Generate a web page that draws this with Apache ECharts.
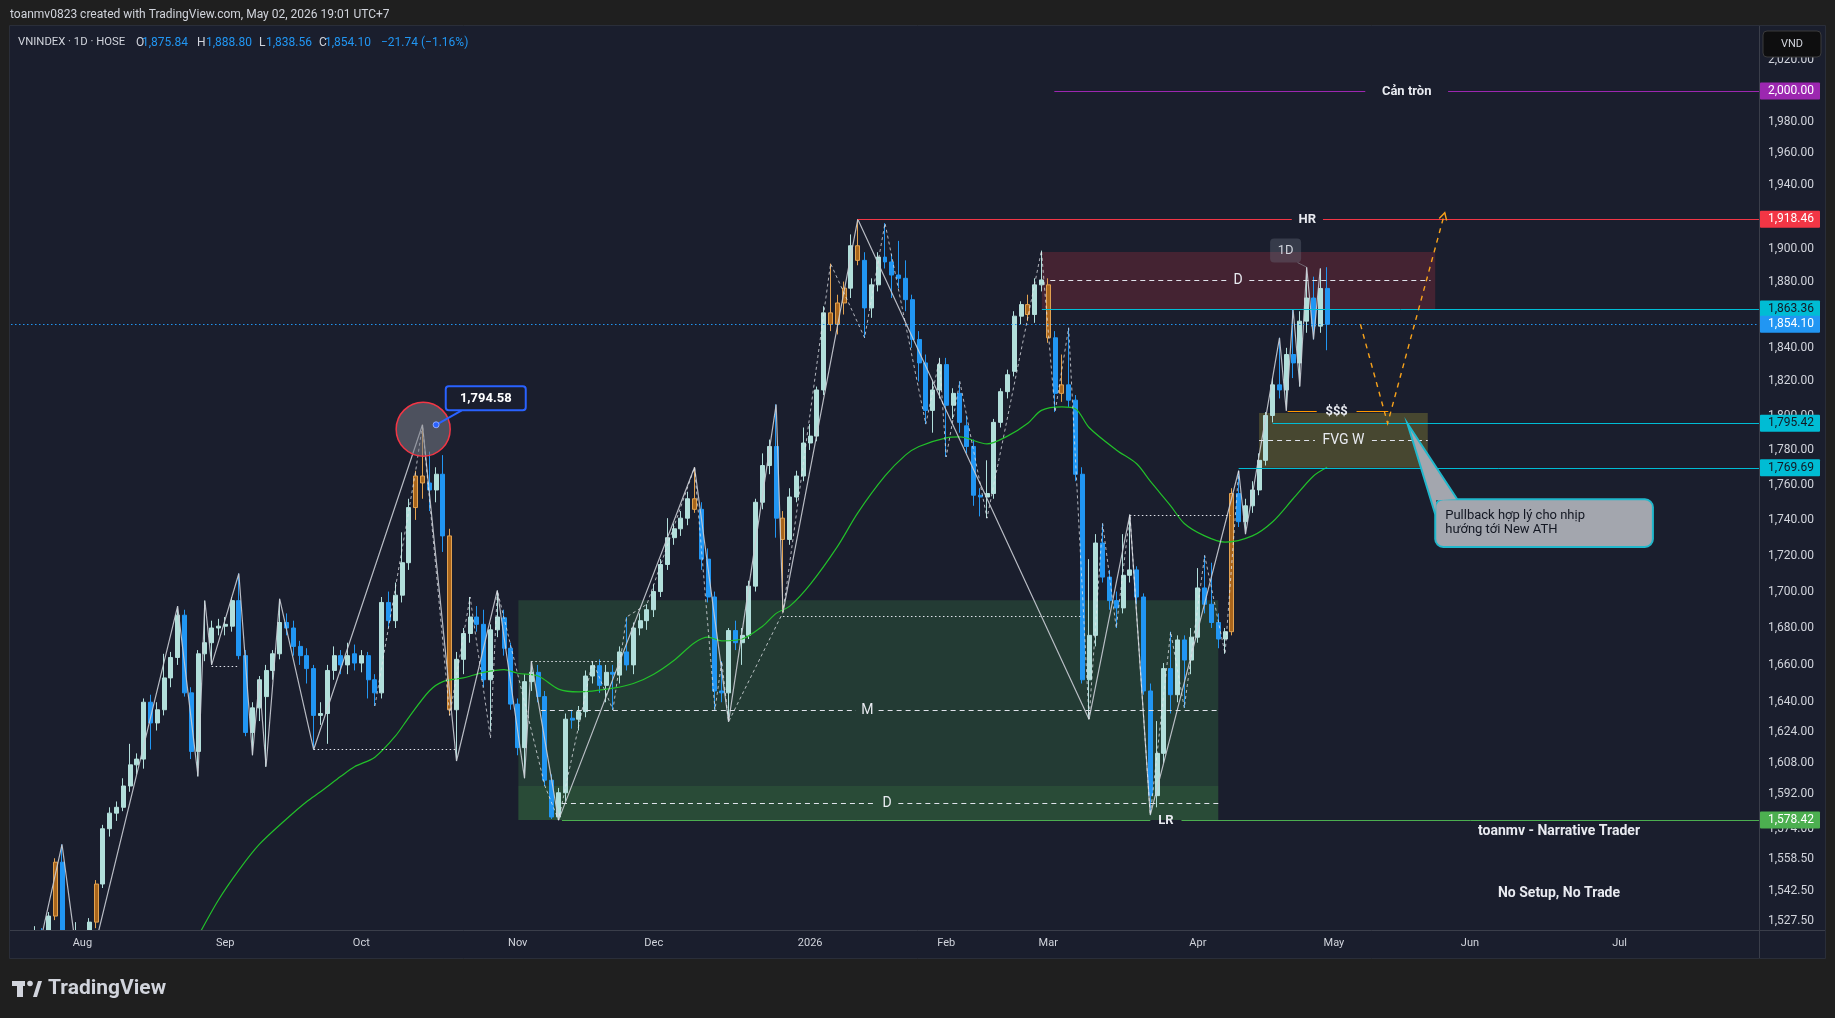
<!DOCTYPE html>
<html>
<head>
<meta charset="utf-8">
<title>VNINDEX 1D</title>
<script src="https://cdn.jsdelivr.net/npm/echarts@6/dist/echarts.min.js"></script>
<style>
html, body { margin: 0; padding: 0; background: #1f1f1f; }
#chart { width: 1835px; height: 1018px; }
</style>
</head>
<body>
<div id="chart"></div>
<script>
// trading days: weekdays from firstDay to lastDay, minus HOSE holidays
const firstDay = "2025-07-18"
const lastDay = "2026-07-29"
const holidays = ["2025-09-01", "2025-09-02", "2026-01-01", "2026-01-02", "2026-02-16", "2026-02-17",
	"2026-02-18", "2026-02-19", "2026-02-20", "2026-04-27", "2026-04-30", "2026-05-01"]
const monthNames = ["Jan", "Feb", "Mar", "Apr", "May", "Jun", "Jul", "Aug", "Sep", "Oct", "Nov", "Dec"]

// daily OHLC, Jul 18 2025 .. Apr 29 2026
const opens = [1495,1497,1502,1508,1518,1514,1530,1557,1495,1508, 1518,1497,1527,1546,1574,1582,1585,1596,1607,1610,
	1640,1629,1636,1653,1664,1687,1645,1614,1666,1672, 1680,1681,1681,1695,1665,1624,1637,1643,1657,1666,
	1683,1680,1670,1665,1658,1633,1634,1657,1665,1660, 1666,1661,1665,1652,1645,1694,1684,1698,1716,1747,
	1765,1761,1757,1766,1731,1636,1663,1677,1686,1682, 1652,1679,1685.6,1669,1639,1616,1651,1656,1643,1599,
	1580,1592.5,1631.5,1631,1635,1654,1659.6,1649,1656,1654.5, 1667,1660,1680,1684,1690,1700,1715,1730,1735,1741,
	1752,1746,1718,1697,1646,1645,1678.6,1672,1676,1703, 1750,1771,1782,1741,1729,1753,1765,1784,1788,1815,
	1861,1854,1867,1876,1902,1893,1864,1878,1895,1892, 1884,1882,1869,1845,1831,1803,1815,1830,1806,1813,
	1794,1782,1754,1753,1755,1796,1814,1826,1859,1866, 1860,1878,1878,1846,1813,1818,1809,1766,1652,1676,
	1727,1708,1695,1691,1709,1712,1697,1646,1591,1613, 1658,1644,1673.5,1662.6,1675,1702,1693,1683,1674,1678,
	1755,1739,1748,1757,1774,1800,1818,1815,1836,1831, 1856,1870,1853,1875.84]
const highs = [1500,1505,1512,1525,1524,1532,1559,1566,1512,1527, 1522,1529,1548,1576,1585,1588,1600,1618,1613,1642,
	1644,1640,1666,1667,1692,1690,1648,1668,1695,1684, 1685,1686,1697,1710,1668,1640,1654,1660,1668,1696,
	1688,1684,1673,1669,1660,1640,1660,1670,1668,1672, 1671,1668,1667,1655,1697,1700,1705,1733,1752,1768,
	1794.58,1779,1770,1777,1735,1667,1680,1697,1692,1690, 1682,1700.6,1690,1672,1642,1655,1662,1660,1646,1602,
	1595,1634,1636,1638,1657,1662,1663,1660,1660,1670, 1686,1683,1688,1693,1704,1718,1741,1738,1745,1756,
	1770,1750,1724,1700,1662,1680,1684,1680,1706,1752, 1778,1786,1806.5,1745,1758,1768,1793,1795,1817,1865,
	1891,1872,1880,1909,1918.46,1898,1882,1898,1916,1897, 1905,1893,1872,1850,1836,1821,1834,1834,1816,1820,
	1800,1786,1758,1774,1798,1816,1827,1862,1868,1872, 1882,1899,1882,1850,1836,1852,1812,1770,1718,1732,
	1738,1712,1700,1732,1743,1714,1699,1650,1630,1661, 1678,1676,1676,1680,1713,1720,1716,1688,1680,1758,
	1768,1752,1762,1778,1802,1822,1846,1840,1863,1862, 1888.8,1883,1888,1888.8]
const lows = [1488,1492,1498,1505,1509,1511,1528,1490,1488,1503, 1492,1495,1524,1544,1570,1578,1583,1593,1602,1605,
	1615,1625,1633,1648,1660,1643,1610,1601,1662,1660, 1676,1676,1678,1663,1622,1612,1630,1606,1652,1663,
	1676,1665,1660,1650,1615,1628,1618,1652,1655,1655, 1657,1656,1642,1638,1642,1680,1680,1694,1712,1740,
	1752,1745,1750,1722,1633,1609,1655,1672,1678,1648, 1625,1675,1665,1636,1612,1600,1646,1640,1596,1579,
	1578.42,1588,1626,1625,1632,1650,1645,1640,1636,1650, 1657,1655,1676,1679,1686,1697,1712,1726,1731,1737,
	1744,1712,1694,1636,1640,1629.6,1668,1660,1674,1700, 1746,1766,1730,1688.6,1726,1750,1762,1780,1785,1812,
	1850,1848,1860,1870,1890,1846,1858,1874,1888,1870, 1876,1862,1840,1820,1795,1790,1810,1776,1798,1790,
	1778,1748,1742,1741,1752,1793,1810,1823,1854,1856, 1855,1874,1843,1802,1808,1805,1762,1650,1631,1670,
	1705,1690,1680,1688,1705,1693,1644,1581,1585,1608, 1634,1640,1637,1655,1672,1688,1680,1669,1666,1676,
	1736,1732,1744,1754,1771,1796,1810,1803,1822,1817, 1849,1845,1849,1838.56]
const closes = [1497,1502,1508,1518,1514,1530,1557,1495,1508,1521, 1497,1527,1546,1574,1582,1585,1596,1607,1610,1640,
	1629,1636,1653,1664,1687,1645,1614,1666,1672,1680, 1681,1682,1695,1665,1624,1637,1652,1657,1666,1683,
	1680,1670,1665,1658,1633,1634,1657,1665,1660,1665, 1661,1665,1652,1645,1694,1684,1698,1716,1747,1765,
	1761,1757,1766,1731,1636,1663,1677,1686,1682,1652, 1679,1686,1669,1639,1616,1651,1656,1643,1599,1580,
	1592.5,1631,1630.5,1635,1654,1659.6,1649,1656,1655,1667, 1660,1680,1684,1690,1700,1715,1730,1735,1741,1752,
	1746,1718,1697,1646,1645,1678.6,1672,1676,1703,1750, 1771,1782,1741,1729,1753,1765,1784,1788,1815,1861,
	1854,1867,1876,1902,1893,1864,1878,1895,1892,1884, 1882,1869,1845,1831,1803,1815,1830,1806,1813,1796,
	1782,1754,1753,1755,1796,1814,1824,1859,1866,1860, 1878,1881,1846,1813,1818,1809,1766,1652,1676,1727,
	1708,1695,1691,1709,1712,1697,1646,1591,1613,1658, 1644,1673.5,1662.6,1675,1702,1693,1683,1674,1678,1755,
	1739,1748,1757,1774,1800,1818,1815,1836,1831,1856, 1870,1853,1875.8,1854.1]
// bars painted orange on the chart
const orangeBars = [6, 12, 59, 60, 64, 100, 113, 120, 121, 122, 124, 149, 152, 154, 179]

// green moving average, [bar, value]
const maLine = [[27,1520],[30,1538],[33,1553],[36,1566],[40,1579],[43,1588],[45,1593],[48,1601],[50,1606],[53,1611],
	[56,1622],[58,1632],[61,1646],[63,1651],[66,1653],[69,1656],[72,1657.5],[74,1655.5],[77,1654],[80,1647],
	[83,1645.5],[88,1647.5],[91,1650],[94,1655],[97,1662.5],[100,1672],[102,1675],[104,1673],[107,1674],[110,1681],
	[112,1688],[114,1692],[117,1704],[121,1725],[124,1744],[128,1765],[131,1777],[133,1782],[137,1787],[139,1787.5],
	[143,1783.5],[146,1788],[149,1795.5],[151,1803],[154,1805],[156,1804],[158,1793],[162,1780],[165,1772],[167,1762],
	[170,1748],[172,1738],[175,1731],[178,1727.5],[182,1731],[185,1739],[188,1752],[191,1765],[193,1770]]

// zigzag pivots [bar, price]
const zigzagMajor = [[3,1505],[7,1566],[10,1490],[24,1692],[27,1601],[28,1695],[29,1660],[33,1710],[35,1612],
	[36,1652],[37,1606],[39,1696],[44,1615],[60,1794.58],[65,1609],[71,1700.6],[75,1600],[76,1662],[80,1578.42],
	[100,1770],[105,1629.6],[112,1806.5],[113,1688.6],[124,1918.46],[158,1631],[164,1743],[167,1581],[180,1768],
	[181,1732],[186,1846],[187,1802.6],[188,1863],[189,1817],[190,1888.8],[191,1845],[192,1888]]
const zigzagMinor = [[53,1638],[59,1768],[60,1794.58],[64,1633],[67,1697],[70,1621],[71,1700.6],[78,1596],
	[80,1578.42],[85,1662],[88,1636],[90,1686],[93,1693],[100,1770],[103,1636],[104,1662],[105,1629.6],
	[113,1688.6],[120,1891],[125,1846],[128,1916],[134,1795],[136,1833],[137,1776],[139,1820],[143,1741],
	[151,1899],[153,1802],[155,1852],[158,1631],[160,1738],[162,1680],[164,1743],[167,1581],[170,1678],
	[172,1637],[175,1720],[178,1666],[180,1768]]

// dotted swing levels [fromBar, toBar, price]
const dottedLevels = [[29, 33, 1659.6], [44, 65, 1615.3], [76, 88.3, 1662], [113, 157, 1686.7], [164, 178.8, 1743]]

// zones [fromBar, toBar, top, bottom]
const zones = [[74.1, 177, 1695.2, 1578.42], [74.1, 177, 1596, 1578.42], [151.06, 208.9, 1898.1, 1863.36], [183, 207.8, 1801.5, 1769.69]]
// dashed mid lines [fromBar, toBar, price, labelBar]
const midLines = [[77.4, 177, 1635.8, 125.4], [80.5, 177, 1587.4, 128.3], [152.3, 208.2, 1880.8, 179.9], [183, 207.8, 1785.6, 195.4]]
const midLabels = ["M", "D", "D", "FVG W"]
// horizontal levels [fromBar, toBar (null = right edge), price, labelBar]
const levels = [[152.9, null, 2000, 204.7], [124, null, 1918.46, 190.1], [151.06, null, 1863.36], [185, null, 1795.42],
	[180, null, 1769.69], [80.5, null, 1578.42, 169.3], [187.2, 202, 1802.6, 194.4]]
const levelLabels = ["Cản tròn", "HR", "", "", "", "LR", "$$$"]
const lastPrice = 1854.10

// projected path [bar, price]
const pullbackPath = [[197.9, 1854.1], [201.9, 1795.4], [210.3, 1922.5]]

// price scale
const yTicks = [2020, 1980, 1960, 1940, 1900, 1880, 1840, 1820, 1800, 1780, 1760, 1740, 1720, 1700, 1680,
	1660, 1640, 1624, 1608, 1592, 1574, 1558.5, 1542.5, 1527.5]
const priceTags = [2000, 1918.46, 1863.36, 1854.10, 1795.42, 1769.69, 1578.42]

// ---------- styles ----------
const font = 'Roboto, "Noto Sans", sans-serif'
const bg = "#1a1e2d"
const frame = "#1f1f1f"
const textColor = "#d1d4dc"
const upColor = "#b2dfdb"
const downColor = "#2196f3"
const zoneFill = ["rgba(76,175,80,0.2)", "rgba(76,175,80,0.14)", "rgba(242,54,69,0.2)", "rgba(255,235,59,0.2)"]
const levelColors = ["#9c27b0", "#f23645", "#00bcd4", "#00bcd4", "#00bcd4", "#4caf50", "#ff9800"]
const tagColors = [["#9c27b0", "#ffffff"], ["#f23645", "#ffffff"], ["#00bcd4", "#131722"], ["#2196f3", "#ffffff"],
	["#00bcd4", "#131722"], ["#00bcd4", "#131722"], ["#4caf50", "#ffffff"]]

const categories = []
for (let t = Date.parse(firstDay); t <= Date.parse(lastDay); t += 86400000) {
	const d = new Date(t)
	const s = d.toISOString().slice(0, 10)
	if (d.getUTCDay() > 0 && d.getUTCDay() < 6 && !holidays.includes(s)) categories.push(s)
}
const monthStart = new Set()
categories.forEach((c, i) => {
	if (i > 0 && c.slice(5, 7) !== categories[i - 1].slice(5, 7)) monthStart.add(i)
})

const fmtPrice = v => v.toLocaleString("en-US", { minimumFractionDigits: 2, maximumFractionDigits: 2 })
const xAt = (cs, idx) => cs.x + (idx + 0.5) * cs.width / categories.length
const yAt = (api, price) => Math.round(api.coord([0, price])[1]) + 0.5
const hline = (x0, x1, y, stroke, dash, width) => ({
	type: "line",
	shape: { x1: x0, y1: y, x2: x1, y2: y },
	style: { stroke, lineWidth: width || 1, lineDash: dash },
})
const label = (text, x, y, fill, size, weight) => ({
	type: "text",
	style: { text, x, y, fill, fontSize: size || 13, fontWeight: weight || "normal", fontFamily: font, align: "center", verticalAlign: "middle" },
})
const gap = text => text.length * 4.3 + 7

const candleData = opens.map((o, i) => {
	const item = { value: [o, closes[i], lows[i], highs[i]] }
	if (orangeBars.includes(i)) {
		item.itemStyle = { color: "#a8651c", color0: "#a8651c", borderColor: "#e3a24f", borderColor0: "#e3a24f" }
	}
	return item
})

const series = [
	{
		type: "custom", name: "zones", z: 1, silent: true,
		data: zones.map(z => [0, z[2]]),
		renderItem: (params, api) => {
			const z = zones[params.dataIndex]
			const cs = params.coordSys
			const x0 = xAt(cs, z[0]), x1 = xAt(cs, z[1])
			const y0 = api.coord([0, z[2]])[1], y1 = api.coord([0, z[3]])[1]
			return { type: "rect", shape: { x: x0, y: y0, width: x1 - x0, height: y1 - y0 }, style: { fill: zoneFill[params.dataIndex] } }
		},
	},
	{
		type: "candlestick", name: "VNINDEX", z: 3, silent: true, clip: true,
		barWidth: "66%",
		itemStyle: { color: upColor, color0: downColor, borderColor: upColor, borderColor0: downColor, borderWidth: 1 },
		data: candleData,
	},
	{
		type: "line", name: "MA", z: 4, silent: true, clip: true,
		data: maLine, smooth: 0.3, symbol: "none",
		lineStyle: { color: "#22c02a", width: 1.2 },
	},
	{
		type: "line", name: "zigzag", z: 4, silent: true, clip: true,
		data: zigzagMajor, symbol: "none",
		lineStyle: { color: "#c9ccd4", width: 1.2, opacity: 0.9 },
	},
	{
		type: "line", name: "zigzag minor", z: 4, silent: true, clip: true,
		data: zigzagMinor, symbol: "none",
		lineStyle: { color: "#e6e8ee", width: 1, type: [3, 3], opacity: 0.75 },
	},
	{
		type: "custom", name: "dotted", z: 5, silent: true,
		data: dottedLevels.map(d => [0, d[2]]),
		renderItem: (params, api) => {
			const d = dottedLevels[params.dataIndex]
			const cs = params.coordSys
			return hline(xAt(cs, d[0]), xAt(cs, d[1]), yAt(api, d[2]), "#e0e3eb", [1.5, 2.5])
		},
	},
	{
		type: "custom", name: "midlines", z: 5, silent: true,
		data: midLines.map(m => [0, m[2]]),
		renderItem: (params, api) => {
			const m = midLines[params.dataIndex]
			const text = midLabels[params.dataIndex]
			const cs = params.coordSys
			const y = yAt(api, m[2])
			const lx = xAt(cs, m[3])
			return {
				type: "group",
				children: [
					hline(xAt(cs, m[0]), lx - gap(text), y, "#e0e3eb", [5, 4]),
					hline(lx + gap(text), xAt(cs, m[1]), y, "#e0e3eb", [5, 4]),
					label(text, lx, y, "#e8eaf0", 14),
				],
			}
		},
	},
	{
		type: "custom", name: "levels", z: 6, silent: true,
		data: levels.map(l => [0, l[2]]),
		renderItem: (params, api) => {
			const k = params.dataIndex
			const l = levels[k]
			const cs = params.coordSys
			const y = yAt(api, l[2])
			const x0 = xAt(cs, l[0])
			const x1 = l[1] == null ? cs.x + cs.width : xAt(cs, l[1])
			const text = levelLabels[k]
			if (!text) return hline(x0, x1, y, levelColors[k])
			const lx = xAt(cs, l[3])
			return {
				type: "group",
				children: [
					hline(x0, lx - gap(text), y, levelColors[k]),
					hline(lx + gap(text), x1, y, levelColors[k]),
					label(text, lx, y, "#e8eaf0", 13, "bold"),
				],
			}
		},
	},
	{
		type: "custom", name: "last price", z: 5, silent: true,
		data: [[0, lastPrice]],
		renderItem: (params, api) => {
			const cs = params.coordSys
			return hline(cs.x, cs.x + cs.width, yAt(api, lastPrice), "#2196f3", [1.5, 2.5])
		},
	},
	{
		type: "custom", name: "pullback", z: 6, silent: true,
		data: [[0, lastPrice]],
		renderItem: (params, api) => {
			const cs = params.coordSys
			const pts = pullbackPath.map(p => [xAt(cs, p[0]), api.coord([0, p[1]])[1]])
			const a = pts[pts.length - 1], b = pts[pts.length - 2]
			const ang = Math.atan2(b[1] - a[1], b[0] - a[0])
			const head = s => [a[0] + 8 * Math.cos(ang + s), a[1] + 8 * Math.sin(ang + s)]
			return {
				type: "group",
				children: [
					{ type: "polyline", shape: { points: pts }, style: { stroke: "#f7a21b", lineWidth: 1.4, lineDash: [5, 5], fill: null } },
					{ type: "polyline", shape: { points: [head(0.5), a, head(-0.5)] }, style: { stroke: "#f7a21b", lineWidth: 1.4, fill: null } },
				],
			}
		},
	},
	{
		type: "custom", name: "notes", z: 7, silent: true,
		data: [[0, 1800]],
		renderItem: (params, api) => {
			const cs = params.coordSys
			const pt = (i, p) => [xAt(cs, i), api.coord([0, p])[1]]
			const kids = []
			// October top marker
			const c = pt(60.1, 1792)
			kids.push({ type: "circle", shape: { cx: c[0], cy: c[1], r: 27 }, style: { fill: "rgba(120,123,134,0.55)", stroke: "#f23645", lineWidth: 1.5 } })
			const dot = pt(62, 1794.58)
			const lc = pt(69.3, 1810.1)
			const bx = lc[0] - 40, by = lc[1] - 12
			kids.push({ type: "line", shape: { x1: dot[0], y1: dot[1], x2: bx + 16, y2: by + 24 }, style: { stroke: "#2962ff", lineWidth: 2 } })
			kids.push({ type: "rect", shape: { x: bx, y: by, width: 80, height: 24, r: 3 }, style: { fill: bg, stroke: "#2962ff", lineWidth: 2 } })
			kids.push(label("1,794.58", lc[0], lc[1], "#ffffff", 13, "bold"))
			kids.push({ type: "circle", shape: { cx: dot[0], cy: dot[1], r: 3 }, style: { fill: "#2962ff", stroke: "#8fa8ff", lineWidth: 1 } })
			// 1D tag near the April top
			const t = pt(186.9, 1899)
			const tip = pt(190, 1888.8)
			kids.push({ type: "line", shape: { x1: t[0] + 12, y1: t[1] + 12, x2: tip[0], y2: tip[1] }, style: { stroke: "rgba(140,143,154,0.6)", lineWidth: 1 } })
			kids.push({ type: "rect", shape: { x: t[0] - 15.5, y: t[1] - 12, width: 31, height: 24, r: 4 }, style: { fill: "rgba(110,114,128,0.35)" } })
			kids.push(label("1D", t[0], t[1], textColor, 13))
			// callout
			const p0 = pt(208.9, 1751.7), p1 = pt(240.9, 1724.8)
			const anchor = pt(204.8, 1795.4)
			const a1 = [p0[0], p0[1] + 15], a2 = [p0[0] + 22, p0[1]]
			kids.push({ type: "rect", shape: { x: p0[0], y: p0[1], width: p1[0] - p0[0], height: p1[1] - p0[1], r: 8 }, style: { fill: "#a3a6ae", stroke: "#20b8cc", lineWidth: 2 } })
			kids.push({ type: "polygon", shape: { points: [anchor, a1, [p0[0] + 1, p0[1] + 1], a2] }, style: { fill: "#a3a6ae" } })
			kids.push({ type: "polyline", shape: { points: [a1, anchor, a2] }, style: { stroke: "#20b8cc", lineWidth: 2, fill: null } })
			const tx = p0[0] + 10
			kids.push({ type: "text", style: { text: "Pullback hợp lý cho nhịp", x: tx, y: p0[1] + 16, fill: "#131722", fontSize: 13, fontFamily: font, align: "left", verticalAlign: "middle" } })
			kids.push({ type: "text", style: { text: "hướng tới New ATH", x: tx, y: p0[1] + 30, fill: "#131722", fontSize: 13, fontFamily: font, align: "left", verticalAlign: "middle" } })
			return { type: "group", children: kids }
		},
	},
	{
		type: "custom", name: "price scale", z: 8, silent: true,
		data: yTicks.map(v => [0, v]),
		renderItem: (params, api) => {
			const v = yTicks[params.dataIndex]
			const cs = params.coordSys
			return {
				type: "text",
				style: { text: fmtPrice(v), x: cs.x + cs.width + 9, y: api.coord([0, v])[1], fill: textColor, fontSize: 12, fontFamily: font, align: "left", verticalAlign: "middle" },
			}
		},
	},
	{
		type: "custom", name: "price tags", z: 9, silent: true,
		data: priceTags.map(v => [0, v]),
		renderItem: (params, api) => {
			const k = params.dataIndex
			const v = priceTags[k]
			const cs = params.coordSys
			const y = api.coord([0, v])[1]
			const x = cs.x + cs.width + 1
			return {
				type: "group",
				children: [
					{ type: "rect", shape: { x, y: y - 8.5, width: 60, height: 17, r: 1 }, style: { fill: tagColors[k][0] } },
					{ type: "text", style: { text: fmtPrice(v), x: x + 8, y, fill: tagColors[k][1], fontSize: 12, fontFamily: font, align: "left", verticalAlign: "middle" } },
				],
			}
		},
	},
]

const legendPieces = [
	["VNINDEX · 1D · HOSE", 18, textColor, 11.3], ["O", 136, textColor, 12], ["1,875.84", 142, downColor, 12],
	["H", 197, textColor, 12], ["1,888.80", 206, downColor, 12], ["L", 259, textColor, 12], ["1,838.56", 266, downColor, 12],
	["C", 319, textColor, 12], ["1,854.10", 325, downColor, 12], ["−21.74 (−1.16%)", 381, downColor, 12],
]

const graphic = [
	{ type: "rect", z: -10, shape: { x: 10, y: 26, width: 1815, height: 932 }, style: { fill: bg } },
	// covers that keep candles and lines inside the plot area
	{ type: "rect", z: 40, shape: { x: 10, y: 931, width: 1815, height: 27 }, style: { fill: bg } },
	{ type: "rect", z: 40, shape: { x: 0, y: 958, width: 1835, height: 60 }, style: { fill: frame } },
	{ type: "rect", z: 40, shape: { x: 0, y: 26, width: 10, height: 932 }, style: { fill: frame } },
	{ type: "line", z: 50, shape: { x1: 10, y1: 930.5, x2: 1825, y2: 930.5 }, style: { stroke: "#3a3e4a", lineWidth: 1 } },
	{ type: "line", z: 50, shape: { x1: 1759.5, y1: 26, x2: 1759.5, y2: 958 }, style: { stroke: "#3a3e4a", lineWidth: 1 } },
	{ type: "rect", z: 50, shape: { x: 9.5, y: 25.5, width: 1816, height: 933 }, style: { fill: null, stroke: "#2a2e39", lineWidth: 1 } },
	{ type: "text", z: 100, style: { text: "toanmv0823 created with TradingView.com, May 02, 2026 19:01 UTC+7", x: 10, y: 15, fill: textColor, fontSize: 12, fontFamily: font, verticalAlign: "middle" } },
	...legendPieces.map(p => ({ type: "text", z: 100, style: { text: p[0], x: p[1], y: 42.5, fill: p[2], fontSize: p[3], fontFamily: font, verticalAlign: "middle" } })),
	{ type: "rect", z: 100, shape: { x: 1763, y: 31, width: 58, height: 26, r: 4 }, style: { fill: "#0e0e0f", stroke: "#3a3a3c", lineWidth: 1 } },
	{ type: "text", z: 101, style: { text: "VND", x: 1792, y: 44, fill: textColor, fontSize: 11, fontFamily: font, align: "center", verticalAlign: "middle" } },
	{ type: "text", z: 100, style: { text: "toanmv - Narrative Trader", x: 1559, y: 831, fill: "#e8eaf0", fontSize: 14, fontWeight: "bold", fontFamily: font, align: "center", verticalAlign: "middle" } },
	{ type: "text", z: 100, style: { text: "No Setup, No Trade", x: 1559, y: 893, fill: "#e8eaf0", fontSize: 14, fontWeight: "bold", fontFamily: font, align: "center", verticalAlign: "middle" } },
	// TradingView logo
	{ type: "rect", z: 100, shape: { x: 12, y: 981, width: 13, height: 5 }, style: { fill: textColor } },
	{ type: "rect", z: 100, shape: { x: 17, y: 981, width: 6, height: 16 }, style: { fill: textColor } },
	{ type: "circle", z: 100, shape: { cx: 30, cy: 983.5, r: 2.8 }, style: { fill: textColor } },
	{ type: "polygon", z: 100, shape: { points: [[33, 997], [37, 997], [42, 981], [38, 981]] }, style: { fill: textColor } },
	{ type: "text", z: 100, style: { text: "TradingView", x: 48, y: 989, fill: textColor, fontSize: 21, fontWeight: "bold", fontFamily: font, verticalAlign: "middle" } },
]

const chart = echarts.init(document.getElementById("chart"))
chart.setOption({
	animation: false,
	backgroundColor: frame,
	textStyle: { fontFamily: font },
	grid: { left: 11, right: 76, top: 28, bottom: 87, containLabel: false, outerBoundsMode: "none" },
	xAxis: {
		type: "category",
		z: 60,
		data: categories,
		boundaryGap: true,
		axisLine: { show: false },
		axisTick: { show: false },
		splitLine: { show: false },
		axisLabel: {
			color: textColor,
			fontSize: 11,
			margin: 7,
			interval: index => monthStart.has(index),
			formatter: value => (value.slice(5, 7) === "01" ? value.slice(0, 4) : monthNames[+value.slice(5, 7) - 1]),
		},
	},
	yAxis: {
		type: "log",
		logBase: 10,
		position: "right",
		min: 1522.6,
		max: 2041.33,
		show: false,
	},
	graphic,
	series,
})
</script>
</body>
</html>
